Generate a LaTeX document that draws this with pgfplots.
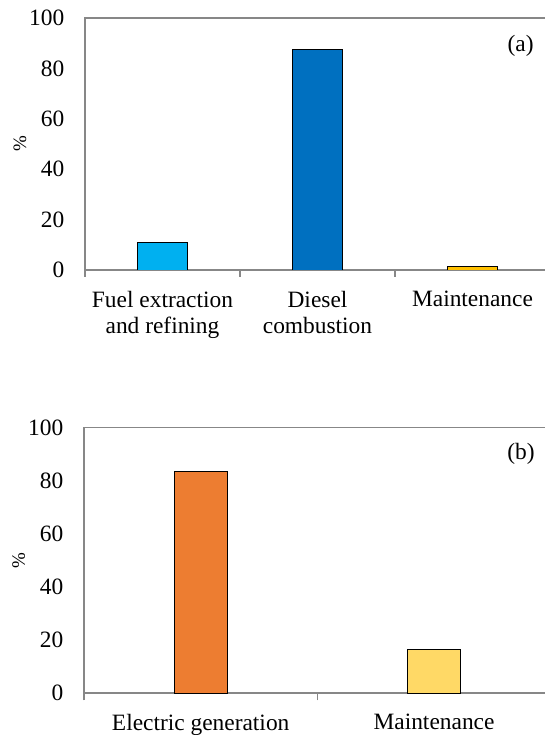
\documentclass[border=0pt]{standalone}
\usepackage{pgfplots}
\pgfplotsset{compat=1.18}
\usepackage{fontspec}
\setmainfont{Liberation Serif}
\definecolor{frame}{RGB}{135,135,135}
\definecolor{cFuel}{RGB}{0,176,240}
\definecolor{cDiesel}{RGB}{0,112,192}
\definecolor{cMaintA}{RGB}{255,192,0}
\definecolor{cElec}{RGB}{237,125,49}
\definecolor{cMaintB}{RGB}{255,217,102}
\pgfplotsset{
  common/.style={
    scale only axis,
    axis line style={draw=frame, line width=1.6bp},
    ymin=0, ymax=100,
    ytick={0,20,40,60,80,100},
    ytick style={draw=none},
    yticklabel style={xshift=-13bp},
    major x tick style={draw=none},
    minor x tick style={draw=frame, line width=1.6bp},
    minor tick length=7bp,
    tick align=outside,
    xtick pos=bottom, ytick pos=left,
    /pgf/number format/assume math mode=true,
    tick label style={font=\fontsize{23.5}{26.5}\selectfont},
    xticklabel style={align=center, yshift=-13bp},
    ylabel={\%},
    every axis y label/.style={at={(axis description cs:-0.14,0.5)}, rotate=90, anchor=center, font=\fontsize{19}{21}\selectfont},
    ybar, bar shift=0pt,
    every axis plot/.append style={draw=black, line width=0.8bp},
  }
}
\begin{document}
\begin{tikzpicture}
\useasboundingbox (0,0) rectangle (545bp,735bp);
% panel (a)
\begin{axis}[common,
  at={(85bp,465bp)}, anchor=south west,
  width=465bp, height=252bp,
  xmin=0, xmax=3,
  xtick={0.5,1.5,2.5},
  xticklabels={{Fuel extraction\\and refining},{Diesel\\combustion},{Maintenance}},
  minor xtick={0,1,2,3},
  bar width=50.4bp,
]
\addplot[fill=cFuel] coordinates {(0.5,10.8)};
\addplot[fill=cDiesel] coordinates {(1.5,87.7)};
\addplot[fill=cMaintA] coordinates {(2.5,1.3)};
\node[font=\fontsize{23.5}{26.5}\selectfont] at (axis cs:2.81,88.9) {(a)};
\end{axis}
% panel (b)
\begin{axis}[common,
  at={(84bp,41.7bp)}, anchor=south west,
  width=466.7bp, height=265.7bp,
  xmin=0, xmax=2,
  xtick={0.5,1.5},
  xticklabels={{Electric generation},{Maintenance}},
  minor xtick={0,1,2},
  bar width=53.3bp,
]
\addplot[fill=cElec] coordinates {(0.5,83.4)};
\addplot[fill=cMaintB] coordinates {(1.5,16.6)};
\node[font=\fontsize{23.5}{26.5}\selectfont] at (axis cs:1.873,90) {(b)};
\end{axis}
\end{tikzpicture}
\end{document}
